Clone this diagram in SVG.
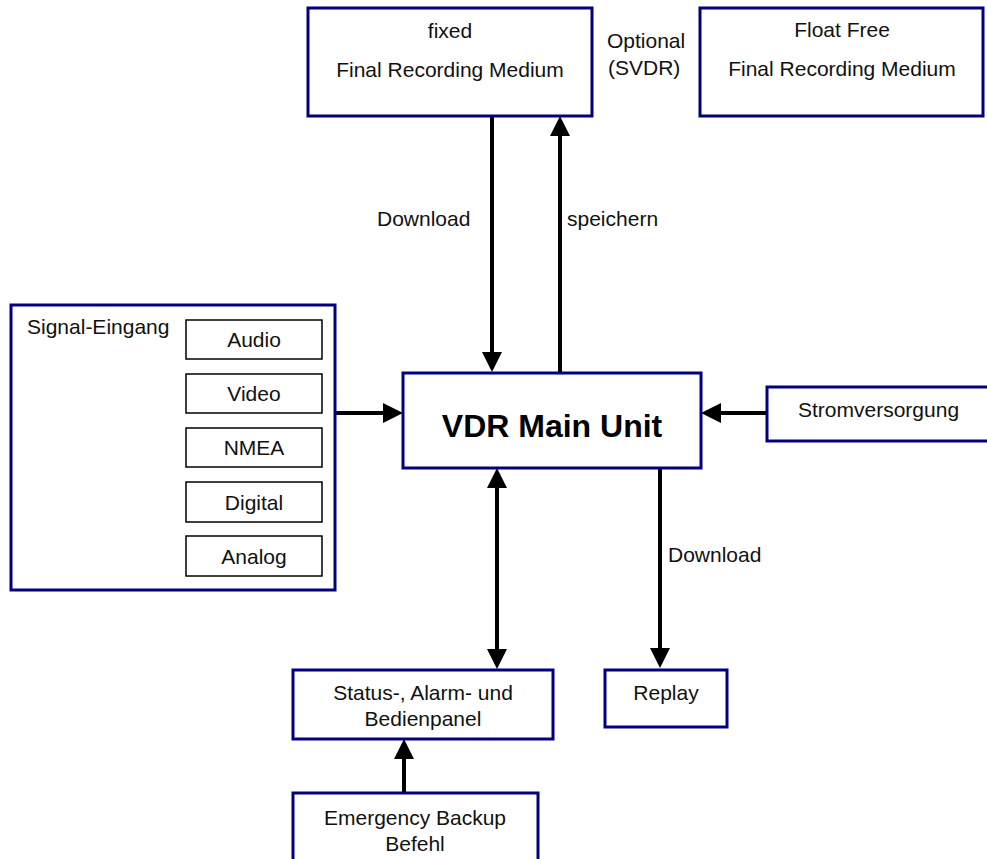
<svg xmlns="http://www.w3.org/2000/svg" width="987" height="859" viewBox="0 0 987 859">
<defs>
<style>
.box{fill:#fff;stroke:#000080;stroke-width:3}
.sub{fill:#fff;stroke:#000;stroke-width:1.5}
text{font-family:"Liberation Sans",Arial,sans-serif;font-size:21px;fill:#111}
.c{text-anchor:middle}
.big{font-size:32px;font-weight:bold;fill:#000}
.con{stroke:#000;stroke-width:4;fill:none}
</style>
<marker id="ah" markerUnits="userSpaceOnUse" markerWidth="20" markerHeight="20" refX="2" refY="10" orient="auto-start-reverse" viewBox="0 0 20 20">
<path d="M0,0 L20,10 L0,20 z" fill="#000"/>
</marker>
</defs>
<rect width="987" height="859" fill="#fff"/>

<g id="connectors">
<line class="con" x1="492" y1="116" x2="492" y2="354" marker-end="url(#ah)"/>
<line class="con" x1="560" y1="373" x2="560" y2="134" marker-end="url(#ah)"/>
<line class="con" x1="335" y1="413" x2="385" y2="413" marker-end="url(#ah)"/>
<line class="con" x1="767" y1="413" x2="719" y2="413" marker-end="url(#ah)"/>
<line class="con" x1="497" y1="486" x2="497" y2="651" marker-start="url(#ah)" marker-end="url(#ah)"/>
<line class="con" x1="660" y1="468" x2="660" y2="650" marker-end="url(#ah)"/>
<line class="con" x1="404" y1="793" x2="404" y2="757" marker-end="url(#ah)"/>
<text x="377" y="226">Download</text>
<text x="567" y="226">speichern</text>
<text x="668" y="562">Download</text>
</g>

<g id="fixed">
<rect class="box" x="308" y="8" width="284" height="108"/>
<text class="c" x="450" y="38">fixed</text>
<text class="c" x="450" y="77">Final Recording Medium</text>
</g>

<g id="optional">
<text x="607" y="48">Optional</text>
<text x="608" y="75">(SVDR)</text>
</g>

<g id="floatfree">
<rect class="box" x="700" y="8" width="283" height="108"/>
<text class="c" x="842" y="37">Float Free</text>
<text class="c" x="842" y="76">Final Recording Medium</text>
</g>

<g id="signal">
<rect class="box" x="11" y="305" width="324" height="285"/>
<text x="27" y="334">Signal-Eingang</text>
<g id="audio"><rect class="sub" x="186" y="320" width="136" height="39"/><text class="c" x="254" y="347">Audio</text></g>
<g id="video"><rect class="sub" x="186" y="374" width="136" height="39"/><text class="c" x="254" y="401">Video</text></g>
<g id="nmea"><rect class="sub" x="186" y="428" width="136" height="39"/><text class="c" x="254" y="455">NMEA</text></g>
<g id="digital"><rect class="sub" x="186" y="482" width="136" height="40"/><text class="c" x="254" y="510">Digital</text></g>
<g id="analog"><rect class="sub" x="186" y="536" width="136" height="40"/><text class="c" x="254" y="564">Analog</text></g>
</g>

<g id="vdr">
<rect class="box" x="403" y="373" width="298" height="95"/>
<text class="c big" x="552" y="437">VDR Main Unit</text>
</g>

<g id="strom">
<rect class="box" x="767" y="387" width="230" height="54"/>
<text x="798" y="417">Stromversorgung</text>
</g>

<g id="status">
<rect class="box" x="293" y="670" width="260" height="69"/>
<text class="c" x="423" y="700">Status-, Alarm- und</text>
<text class="c" x="423" y="726">Bedienpanel</text>
</g>

<g id="replay">
<rect class="box" x="605" y="670" width="122" height="57"/>
<text class="c" x="666" y="700">Replay</text>
</g>

<g id="emergency">
<rect class="box" x="293" y="793" width="245" height="80"/>
<text class="c" x="415" y="825">Emergency Backup</text>
<text class="c" x="415" y="851">Befehl</text>
</g>
</svg>
